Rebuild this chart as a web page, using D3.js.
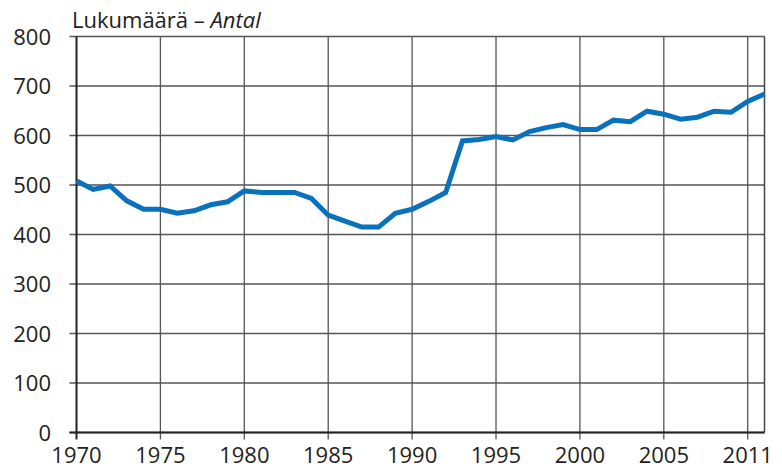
<!DOCTYPE html>
<html><head><meta charset="utf-8">
<script src="https://cdn.jsdelivr.net/npm/d3@7"></script>
<style>body{margin:0;background:#fff}svg{display:block}text{font-family:"Open Sans",sans-serif;fill:#222}</style>
</head><body><svg id="c" width="782" height="471"></svg>
<script>
const years = d3.range(1970, 2012);
const values = [508,491,498,468,451,451,443,448,460,466,488,485,485,485,473,439,427,415,415,443,451,467,485,589,592,598,591,608,616,622,612,612,631,628,649,643,633,637,649,647,669,684];
const xTickValues = [1970,1975,1980,1985,1990,1995,2000,2005,2010];
const xTickLabels = ["1970","1975","1980","1985","1990","1995","2000","2005","2011"];
const yTicks = [0,100,200,300,400,500,600,700,800];
const title = "Lukumäärä – ";
const titleItalic = "Antal";

const svg = d3.select("#c");
const L = 76.5, R = 764.5, T = 36.5, B = 432.5;
const x = d3.scaleLinear().domain([1970, 2011]).range([L, R]);
const y = d3.scaleLinear().domain([0, 800]).range([B, T]);

svg.append("g").selectAll("line").data(yTicks).join("line")
  .attr("x1", L - 7).attr("x2", R).attr("y1", d => y(d)).attr("y2", d => y(d))
  .attr("stroke", "#555").attr("stroke-width", 1.3);
svg.append("g").selectAll("line").data(xTickValues.slice(1)).join("line")
  .attr("x1", d => x(d)).attr("x2", d => x(d)).attr("y1", T).attr("y2", B + 7)
  .attr("stroke", "#555").attr("stroke-width", 1.3);
svg.append("line").attr("x1", R).attr("x2", R).attr("y1", T).attr("y2", B).attr("stroke", "#444").attr("stroke-width", 1.5);
svg.append("line").attr("x1", L).attr("x2", L).attr("y1", T).attr("y2", B + 7).attr("stroke", "#222").attr("stroke-width", 2);
svg.append("line").attr("x1", L - 7).attr("x2", R).attr("y1", B).attr("y2", B).attr("stroke", "#222").attr("stroke-width", 2);

svg.append("g").selectAll("text").data(yTicks).join("text")
  .attr("x", 51).attr("y", d => y(d) + 8).attr("text-anchor", "end")
  .attr("font-size", 22).text(d => d);
svg.append("g").selectAll("text").data(xTickValues).join("text")
  .attr("x", (d,i) => x(d)).attr("y", 463).attr("text-anchor", "middle")
  .attr("font-size", 22).text((d,i) => xTickLabels[i]);

const t = svg.append("text").attr("x", 72).attr("y", 28).attr("font-size", 22);
t.append("tspan").text(title);
t.append("tspan").attr("font-style", "italic").text(titleItalic);

const line = d3.line().x((d,i) => x(years[i])).y(d => y(d));
svg.append("path").datum(values).attr("d", line)
  .attr("fill", "none").attr("stroke", "#0a72bc").attr("stroke-width", 5)
  .attr("stroke-linejoin", "miter");
</script></body></html>
